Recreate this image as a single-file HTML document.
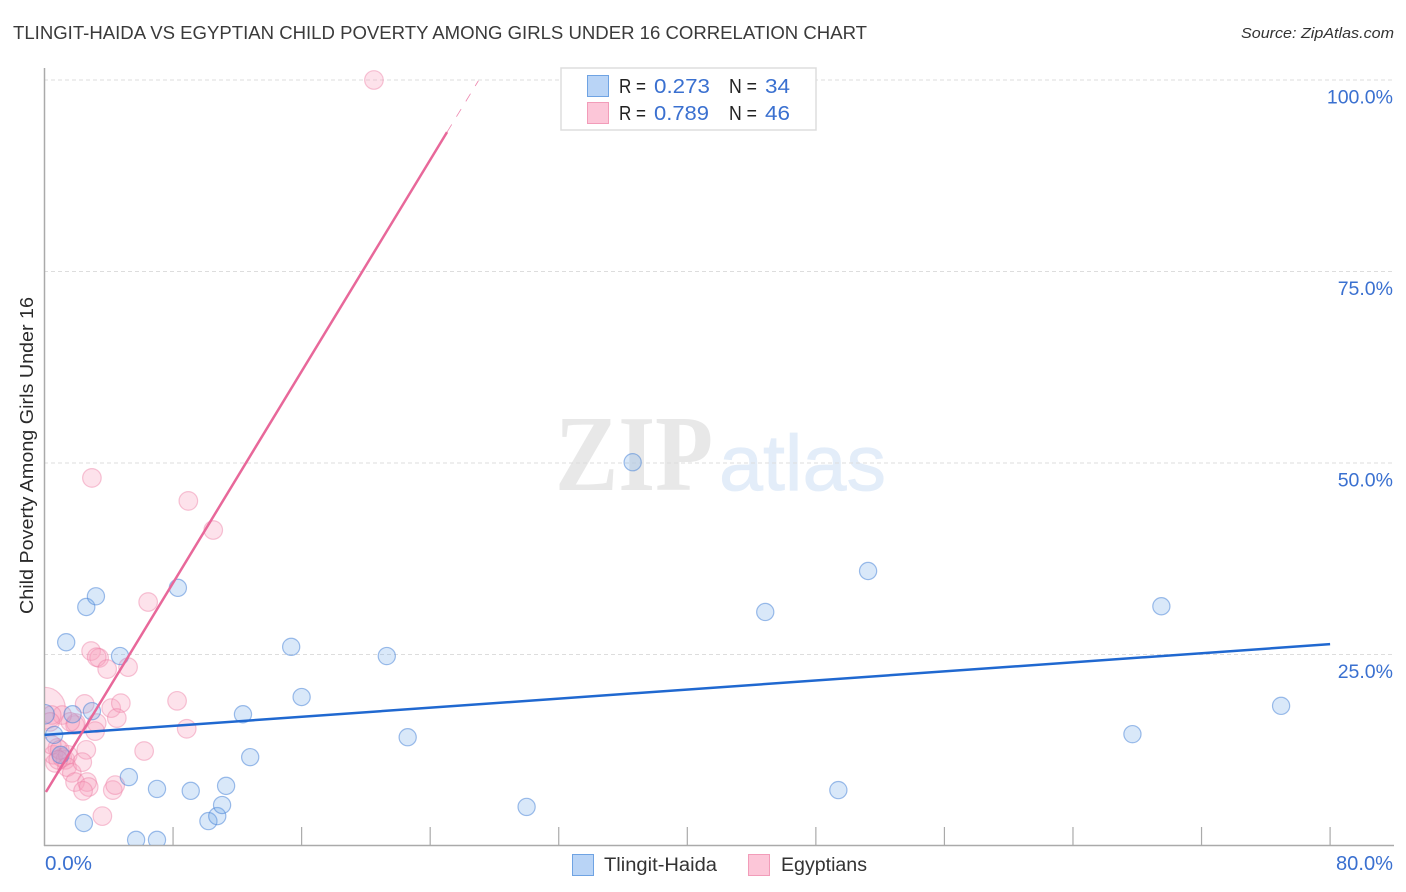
<!DOCTYPE html>
<html>
<head>
<meta charset="utf-8">
<title>Tlingit-Haida vs Egyptian Child Poverty Correlation Chart</title>
<style>
html,body{margin:0;padding:0;background:#fff;}
svg{display:block;font-family:"Liberation Sans",sans-serif;}
</style>
</head>
<body>
<svg id="chart" xmlns="http://www.w3.org/2000/svg" width="1406" height="892" viewBox="0 0 1406 892">
  <defs>
    <clipPath id="plot-clip"><rect x="45" y="60" width="1349" height="785"/></clipPath>
  </defs>
  <rect width="1406" height="892" fill="#fff"/>
  <text x="13" y="39" font-size="18.5" fill="#3a3a3a" textLength="854" lengthAdjust="spacingAndGlyphs">TLINGIT-HAIDA VS EGYPTIAN CHILD POVERTY AMONG GIRLS UNDER 16 CORRELATION CHART</text>
  <text x="1241" y="38" font-size="15" font-style="italic" fill="#333" textLength="153" lengthAdjust="spacingAndGlyphs">Source: ZipAtlas.com</text>

  <g>
    <text x="555" y="490" font-family="'Liberation Serif',serif" font-weight="bold" font-size="108" fill="#e8e8e8" textLength="158" lengthAdjust="spacingAndGlyphs">ZIP</text>
    <text x="719" y="490" font-size="79" fill="#e3edf9" stroke="#e3edf9" stroke-width="0.8" textLength="167" lengthAdjust="spacingAndGlyphs">atlas</text>
  </g>

  <g id="grid"></g>
  <g id="axes"></g>
  <g id="egyptian-points" clip-path="url(#plot-clip)"></g>
  <g id="tlingit-points" clip-path="url(#plot-clip)"></g>
  <g id="trends"></g>

  <text transform="translate(33,455.5) rotate(-90)" font-size="18.5" fill="#2a2a2a" text-anchor="middle" textLength="317" lengthAdjust="spacingAndGlyphs">Child Poverty Among Girls Under 16</text>

  <g>
    <rect x="561" y="68" width="255" height="62" fill="#fff" stroke="#ddd" stroke-width="1.5"/>
    <rect x="587.5" y="75.5" width="21" height="21" fill="#b9d4f6" stroke="#6fa3e3" stroke-width="1"/>
    <rect x="587.5" y="102.5" width="21" height="21" fill="#fcc6d8" stroke="#f29cb9" stroke-width="1"/>
    <g font-size="20" fill="#222">
      <text x="619" y="93" textLength="27" lengthAdjust="spacingAndGlyphs">R =</text>
      <text x="729" y="93" textLength="28" lengthAdjust="spacingAndGlyphs">N =</text>
      <text x="619" y="120" textLength="27" lengthAdjust="spacingAndGlyphs">R =</text>
      <text x="729" y="120" textLength="28" lengthAdjust="spacingAndGlyphs">N =</text>
    </g>
    <g font-size="20" fill="#3a70d0">
      <text x="654" y="93" textLength="56" lengthAdjust="spacingAndGlyphs">0.273</text>
      <text x="765" y="93" textLength="25" lengthAdjust="spacingAndGlyphs">34</text>
      <text x="654" y="120" textLength="55" lengthAdjust="spacingAndGlyphs">0.789</text>
      <text x="765" y="120" textLength="25" lengthAdjust="spacingAndGlyphs">46</text>
    </g>
  </g>

  <g>
    <rect x="572.5" y="854.5" width="21" height="21" fill="#b9d4f6" stroke="#6fa3e3" stroke-width="1"/>
    <text x="604" y="871" font-size="19" fill="#333" textLength="113" lengthAdjust="spacingAndGlyphs">Tlingit-Haida</text>
    <rect x="748.5" y="854.5" width="21" height="21" fill="#fcc6d8" stroke="#f29cb9" stroke-width="1"/>
    <text x="781" y="871" font-size="19" fill="#333" textLength="86" lengthAdjust="spacingAndGlyphs">Egyptians</text>
  </g>
</svg>
<script>
const xTicks = [0, 8, 16, 24, 32, 40, 48, 56, 64, 72, 80];
const yTicks = [100, 75, 50, 25];
const yTickLabels = ['100.0%', '75.0%', '50.0%', '25.0%'];
const xEndLabels = ['0.0%', '80.0%'];

const tlingitX = [0.0,0.6,1.35,1.75,2.45,2.6,3.2,2.95,4.7,5.25,5.7,7.0,7.0,8.3,9.1,10.2,10.75,11.05,11.3,12.35,12.8,15.35,16.0,21.3,22.6,30.0,36.6,44.85,49.4,51.25,67.7,69.5,76.95,1.0];
const tlingitY = [17.2,14.5,26.6,17.2,3.0,31.2,32.6,17.6,24.8,9.0,0.8,0.8,7.45,33.7,7.2,3.25,3.9,5.35,7.85,17.2,11.6,26.0,19.45,24.8,14.2,5.1,50.1,30.55,7.3,35.9,14.6,31.3,18.3,11.9];
const tlingitWeight = [1.3,1,1,1,1,1,1,1,1,1,1,1,1,1,1,1,1,1,1,1,1,1,1,1,1,1,1,1,1,1,1,1,1,1];

const egyptianX = [0,20.5,2.95,8.95,10.5,6.45,2.9,3.4,3.25,3.9,5.2,8.25,8.85,6.2,2.5,4.15,4.75,4.5,3.25,3.15,1.9,1.95,1.1,0.45,0.35,0.8,0.55,0.65,1.1,1.3,1.45,1.4,1.7,1.9,2.6,2.35,2.65,2.75,2.4,4.25,4.4,3.6,0.45,0.95,1.6,0.85];
const egyptianY = [18,100,48.05,45.05,41.25,31.85,25.45,24.55,24.65,23.1,23.35,18.95,15.3,12.4,18.55,18.0,18.65,16.7,16.05,15.0,15.8,16.05,17.1,17.1,16.2,12.8,11.9,10.85,11.5,11.25,11.9,10.3,9.55,8.35,12.55,10.95,8.35,7.7,7.2,7.3,7.95,3.9,13.2,12.55,16.2,11.25];
const egyptianWeight = [5,1,1,1,1,1,1,1,1,1,1,1,1,1,1,1,1,1,1,1,1,1,1,1,1,1,1,1,1,1,1,1,1,1,1,1,1,1,1,1,1,1,1,1,1,1];

const tlingitTrendX = [0, 80];
const tlingitTrendY = [14.5, 26.35];
const egyptianTrendX = [0.09, 25.05];
const egyptianTrendY = [7.05, 93.2];
const egyptianTrendExtX = [25.05, 27];
const egyptianTrendExtY = [93.2, 99.9];

const NS = 'http://www.w3.org/2000/svg';
const xScale = v => 44.5 + v * 16.07;
const yScale = v => 846 - v * 7.66;

function make(tag, parentId, attrs, text) {
  const el = document.createElementNS(NS, tag);
  for (const k in attrs) el.setAttribute(k, attrs[k]);
  if (text !== undefined) el.textContent = text;
  document.getElementById(parentId).appendChild(el);
  return el;
}

yTicks.forEach((t, i) => {
  const line = make('line', 'grid', {x1: 44, x2: 1394, y1: yScale(t), y2: yScale(t), stroke: '#ddd', 'stroke-width': 1, 'stroke-dasharray': '4 3'});
  
  
  const label = make('text', 'axes', {x: 1393, y: yScale(t) + 23.5, 'font-size': 19.5, fill: '#3a70d0', 'text-anchor': 'end'}, yTickLabels[i]);
  
  
});

const yAxis = make('line', 'axes', {x1: 44.5, x2: 44.5, y1: 68, y2: 846, stroke: '#aaa', 'stroke-width': 1.5});


const xAxis = make('line', 'axes', {x1: 44, x2: 1394, y1: 845.5, y2: 845.5, stroke: '#aaa', 'stroke-width': 1.5});



xTicks.slice(1).forEach(t => {
  const tick = make('line', 'axes', {x1: xScale(t), x2: xScale(t), y1: 827, y2: 846, stroke: '#aaa', 'stroke-width': 1.2});
  
  
});

const xLabelLeft = make('text', 'axes', {x: 45, y: 870, 'font-size': 20, fill: '#3a70d0', textLength: 47, lengthAdjust: 'spacingAndGlyphs'}, xEndLabels[0]);


const xLabelRight = make('text', 'axes', {x: 1336, y: 870, 'font-size': 20, fill: '#3a70d0', textLength: 57, lengthAdjust: 'spacingAndGlyphs'}, xEndLabels[1]);



egyptianX.forEach((v, i) => {
  const c = make('circle', 'egyptian-points', {cx: xScale(v), cy: yScale(egyptianY[i]), r: 9.3 * Math.sqrt(egyptianWeight[i]), fill: 'rgba(248,160,190,0.3)', stroke: 'rgba(236,120,160,0.42)', 'stroke-width': 1.2});
  
  
});

tlingitX.forEach((v, i) => {
  const c = make('circle', 'tlingit-points', {cx: xScale(v), cy: yScale(tlingitY[i]), r: 8.6 * Math.sqrt(tlingitWeight[i]), fill: 'rgba(110,165,232,0.26)', stroke: 'rgba(70,130,215,0.52)', 'stroke-width': 1.2});
  
  
});

const tlingitTrend = make('line', 'trends', {x1: xScale(tlingitTrendX[0]), y1: yScale(tlingitTrendY[0]), x2: xScale(tlingitTrendX[1]), y2: yScale(tlingitTrendY[1]), stroke: '#2068d0', 'stroke-width': 2.5});



const egyptianTrend = make('line', 'trends', {x1: xScale(egyptianTrendX[0]), y1: yScale(egyptianTrendY[0]), x2: xScale(egyptianTrendX[1]), y2: yScale(egyptianTrendY[1]), stroke: '#e8689a', 'stroke-width': 2.5});



const egyptianExt = make('line', 'trends', {x1: xScale(egyptianTrendExtX[0]), y1: yScale(egyptianTrendExtY[0]), x2: xScale(egyptianTrendExtX[1]), y2: yScale(egyptianTrendExtY[1]), stroke: '#e8689a', 'stroke-width': 0.8, 'stroke-opacity': 0.8, 'stroke-dasharray': '9 9'});


</script>
</body>
</html>
